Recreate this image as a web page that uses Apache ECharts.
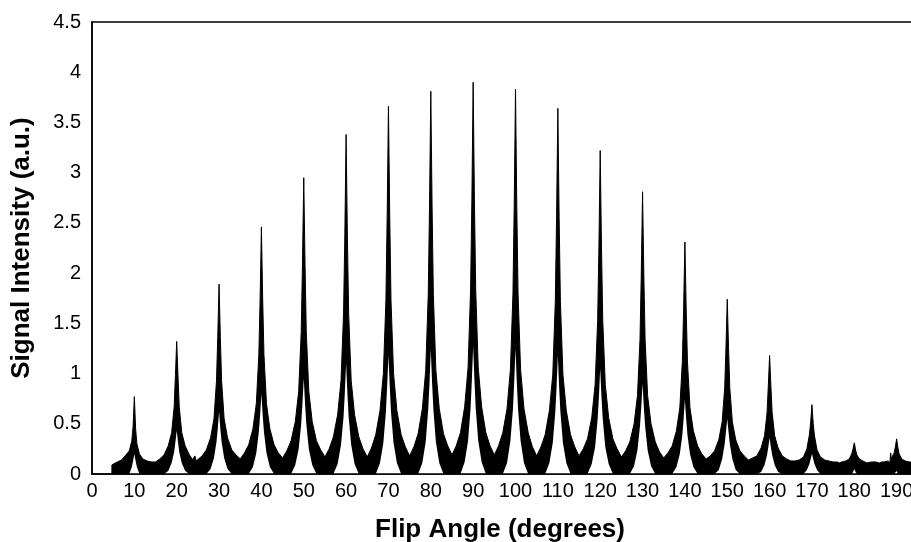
<!DOCTYPE html>
<html>
<head>
<meta charset="utf-8">
<script src="https://cdn.jsdelivr.net/npm/echarts@6/dist/echarts.min.js"></script>
<style>
  html, body { margin: 0; padding: 0; background: #fff; overflow: hidden; }
  /* wider than the window: the right part of the plot is cut off, as in the picture */
  #chart { width: 945px; height: 542px; }
</style>
</head>
<body>
<div id="chart"></div>
<script>
// peak positions (degrees)
var peakAngles = [10, 20, 30, 40, 50, 60, 70, 80, 90, 100, 110, 120, 130, 140, 150, 160, 170, 180, 190];
// offsets (degrees) from each peak where the envelopes were read
var offsets = [-4, -3, -2, -1.2, -0.6, -0.3, 0, 0.3, 0.6, 1.2, 2, 3, 4];

// upper edge of the noisy trace around each peak
var upper10 = [0.12, 0.14, 0.19, 0.23, 0.33, 0.47, 0.77, 0.45, 0.30, 0.20, 0.15, 0.13, 0.12];
var upper20 = [0.15, 0.19, 0.28, 0.41, 0.67, 0.98, 1.32, 0.98, 0.67, 0.41, 0.28, 0.19, 0.16];
var upper30 = [0.18, 0.24, 0.36, 0.55, 0.93, 1.37, 1.89, 1.37, 0.93, 0.55, 0.36, 0.24, 0.19];
var upper40 = [0.21, 0.29, 0.45, 0.70, 1.19, 1.75, 2.46, 1.75, 1.19, 0.70, 0.45, 0.29, 0.21];
var upper50 = [0.23, 0.33, 0.52, 0.82, 1.41, 2.09, 2.95, 2.09, 1.41, 0.82, 0.52, 0.33, 0.24];
var upper60 = [0.25, 0.37, 0.59, 0.93, 1.60, 2.38, 3.38, 2.38, 1.60, 0.93, 0.59, 0.37, 0.25];
var upper70 = [0.26, 0.39, 0.63, 1.00, 1.73, 2.57, 3.66, 2.57, 1.73, 1.00, 0.63, 0.39, 0.27];
var upper80 = [0.27, 0.40, 0.65, 1.03, 1.79, 2.67, 3.81, 2.67, 1.79, 1.03, 0.65, 0.40, 0.28];
var upper90 = [0.28, 0.41, 0.67, 1.06, 1.84, 2.73, 3.90, 2.73, 1.84, 1.06, 0.67, 0.41, 0.28];
var upper100 = [0.28, 0.41, 0.65, 1.04, 1.80, 2.68, 3.83, 2.68, 1.80, 1.04, 0.65, 0.41, 0.27];
var upper110 = [0.27, 0.39, 0.63, 0.99, 1.72, 2.56, 3.64, 2.56, 1.72, 0.99, 0.63, 0.39, 0.27];
var upper120 = [0.25, 0.35, 0.56, 0.89, 1.53, 2.27, 3.22, 2.27, 1.53, 0.89, 0.56, 0.35, 0.25];
var upper130 = [0.23, 0.32, 0.50, 0.78, 1.34, 1.99, 2.81, 1.99, 1.34, 0.78, 0.50, 0.32, 0.22];
var upper140 = [0.21, 0.28, 0.43, 0.66, 1.12, 1.65, 2.31, 1.65, 1.12, 0.66, 0.43, 0.28, 0.20];
var upper150 = [0.18, 0.23, 0.34, 0.52, 0.86, 1.26, 1.74, 1.26, 0.86, 0.52, 0.34, 0.23, 0.18];
var upper160 = [0.16, 0.18, 0.26, 0.38, 0.61, 0.88, 1.18, 0.88, 0.61, 0.38, 0.26, 0.18, 0.15];
var upper170 = [0.13, 0.14, 0.17, 0.25, 0.39, 0.52, 0.69, 0.50, 0.38, 0.24, 0.17, 0.14, 0.13];
var upper180 = [0.12, 0.12, 0.13, 0.15, 0.20, 0.25, 0.31, 0.24, 0.19, 0.15, 0.13, 0.12, 0.12];
var upper190 = [0.11, 0.12, 0.13, 0.16, 0.21, 0.27, 0.35, 0.26, 0.20, 0.15, 0.13, 0.12, 0.12];

// lower edge of the trace (white gap under each peak)
var lower10 = [0, 0, 0, 0, 0.07, 0.13, 0.20, 0.13, 0.07, 0, 0, 0, 0];
var lower20 = [0, 0, 0.03, 0.11, 0.22, 0.32, 0.43, 0.32, 0.22, 0.11, 0.03, 0, 0];
var lower30 = [0, 0, 0.05, 0.16, 0.32, 0.45, 0.62, 0.45, 0.32, 0.16, 0.05, 0, 0];
var lower40 = [0, 0, 0.07, 0.21, 0.42, 0.59, 0.80, 0.59, 0.42, 0.21, 0.07, 0, 0];
var lower50 = [0, 0, 0.09, 0.25, 0.50, 0.71, 0.95, 0.71, 0.50, 0.25, 0.09, 0, 0];
var lower60 = [0, 0, 0.10, 0.29, 0.57, 0.81, 1.10, 0.81, 0.57, 0.29, 0.10, 0, 0];
var lower70 = [0, 0, 0.11, 0.31, 0.62, 0.88, 1.18, 0.88, 0.62, 0.31, 0.11, 0, 0];
var lower80 = [0, 0, 0.11, 0.32, 0.65, 0.91, 1.24, 0.91, 0.65, 0.32, 0.11, 0, 0];
var lower90 = [0, 0, 0.12, 0.33, 0.66, 0.94, 1.27, 0.94, 0.66, 0.33, 0.12, 0, 0];
var lower100 = [0, 0, 0.11, 0.33, 0.65, 0.92, 1.25, 0.92, 0.65, 0.33, 0.11, 0, 0];
var lower110 = [0, 0, 0.11, 0.31, 0.62, 0.87, 1.18, 0.87, 0.62, 0.31, 0.11, 0, 0];
var lower120 = [0, 0, 0.10, 0.27, 0.55, 0.77, 1.05, 0.77, 0.55, 0.27, 0.10, 0, 0];
var lower130 = [0, 0, 0.08, 0.24, 0.48, 0.67, 0.90, 0.67, 0.48, 0.24, 0.08, 0, 0];
var lower140 = [0, 0, 0.07, 0.20, 0.39, 0.55, 0.74, 0.55, 0.39, 0.20, 0.07, 0, 0];
var lower150 = [0, 0, 0.04, 0.15, 0.30, 0.42, 0.55, 0.42, 0.30, 0.15, 0.04, 0, 0];
var lower160 = [0, 0, 0.02, 0.09, 0.19, 0.27, 0.36, 0.27, 0.19, 0.09, 0.02, 0, 0];
var lower170 = [0, 0, 0, 0.04, 0.10, 0.15, 0.20, 0.15, 0.10, 0.04, 0, 0, 0];
var lower180 = [0, 0, 0, 0, 0, 0.02, 0.05, 0.02, 0, 0, 0, 0, 0];
var lower190 = [0, 0, 0, 0, 0, 0, 0.03, 0, 0, 0, 0, 0, 0];

// valleys half way between peaks
var valleyAngles = [15, 25, 35, 45, 55, 65, 75, 85, 95, 105, 115, 125, 135, 145, 155, 165, 175, 185];
var valleyUpper = [0.12, 0.14, 0.15, 0.16, 0.17, 0.17, 0.18, 0.19, 0.19, 0.18, 0.18, 0.17, 0.16, 0.15, 0.14, 0.13, 0.12, 0.12];

// start of the trace and small noise spikes
var extraAngles = [4.7, 4.7, 5.5, 24, 24.3, 24.6, 174, 176.5, 183, 186.5, 188.4, 188.6, 188.8, 196, 200];
var extraUpper = [0, 0.09, 0.11, 0.13, 0.18, 0.13, 0.13, 0.11, 0.11, 0.12, 0.11, 0.21, 0.11, 0.12, 0.12];

var yTicks = ["0", "0.5", "1", "1.5", "2", "2.5", "3", "3.5", "4", "4.5"];

var upperRows = [upper10, upper20, upper30, upper40, upper50, upper60, upper70, upper80, upper90, upper100,
  upper110, upper120, upper130, upper140, upper150, upper160, upper170, upper180, upper190];
var lowerRows = [lower10, lower20, lower30, lower40, lower50, lower60, lower70, lower80, lower90, lower100,
  lower110, lower120, lower130, lower140, lower150, lower160, lower170, lower180, lower190];

// build [angle, value] pairs for both edges
var upperData = [], lowerData = [];
peakAngles.forEach(function (a, i) {
  offsets.forEach(function (o, j) {
    upperData.push([a + o, upperRows[i][j]]);
    lowerData.push([a + o, lowerRows[i][j]]);
  });
});
valleyAngles.forEach(function (a, i) {
  upperData.push([a, valleyUpper[i]]);
  lowerData.push([a, 0]);
});
extraAngles.forEach(function (a, i) {
  upperData.push([a, extraUpper[i]]);
});
lowerData.push([4.7, 0], [200, 0]);
// keep the first vertical edge in order
upperData.sort(function (p, q) { return p[0] - q[0] || p[1] - q[1]; });
lowerData.sort(function (p, q) { return p[0] - q[0]; });

var font = "'Liberation Sans', Arial, sans-serif";

var option = {
  animation: false,
  backgroundColor: "#fff",
  grid: {
    left: 92, top: 22, right: 6, bottom: 68,
    outerBoundsMode: "none",
    show: true, borderColor: "#000", borderWidth: 1.5, backgroundColor: "transparent"
  },
  xAxis: {
    type: "value", min: 0, max: 200, interval: 10, z: 10,
    axisLine: { lineStyle: { color: "#000", width: 1.5 } },
    axisTick: { show: false },
    splitLine: { show: false },
    axisLabel: { color: "#000", fontSize: 20, fontFamily: font, margin: 7 }
  },
  yAxis: {
    type: "value", min: 0, max: 4.5, interval: 0.5, z: 10,
    axisLine: { show: true, lineStyle: { color: "#000", width: 1.5 } },
    axisTick: { show: false },
    splitLine: { show: false },
    axisLabel: {
      color: "#000", fontSize: 20, fontFamily: font, margin: 11,
      formatter: function (v) { return yTicks[Math.round(v * 2)]; }
    }
  },
  graphic: [
    {
      type: "text", x: 22, y: 248, rotation: Math.PI / 2,
      style: { text: "Signal Intensity (a.u.)", fill: "#000", font: "bold 26px " + font, align: "center", verticalAlign: "middle" }
    },
    {
      type: "text", x: 500, y: 530,
      style: { text: "Flip Angle (degrees)", fill: "#000", font: "bold 26px " + font, align: "center", verticalAlign: "middle" }
    }
  ],
  series: [
    {
      type: "line", data: upperData, symbol: "none", z: 2,
      lineStyle: { color: "#000", width: 1 },
      areaStyle: { color: "#000", opacity: 1 }
    },
    {
      type: "line", data: lowerData, symbol: "none", z: 3,
      lineStyle: { width: 0 },
      areaStyle: { color: "#fff", opacity: 1 }
    }
  ]
};

var myChart = echarts.init(document.getElementById("chart"));
myChart.setOption(option);
</script>
</body>
</html>
